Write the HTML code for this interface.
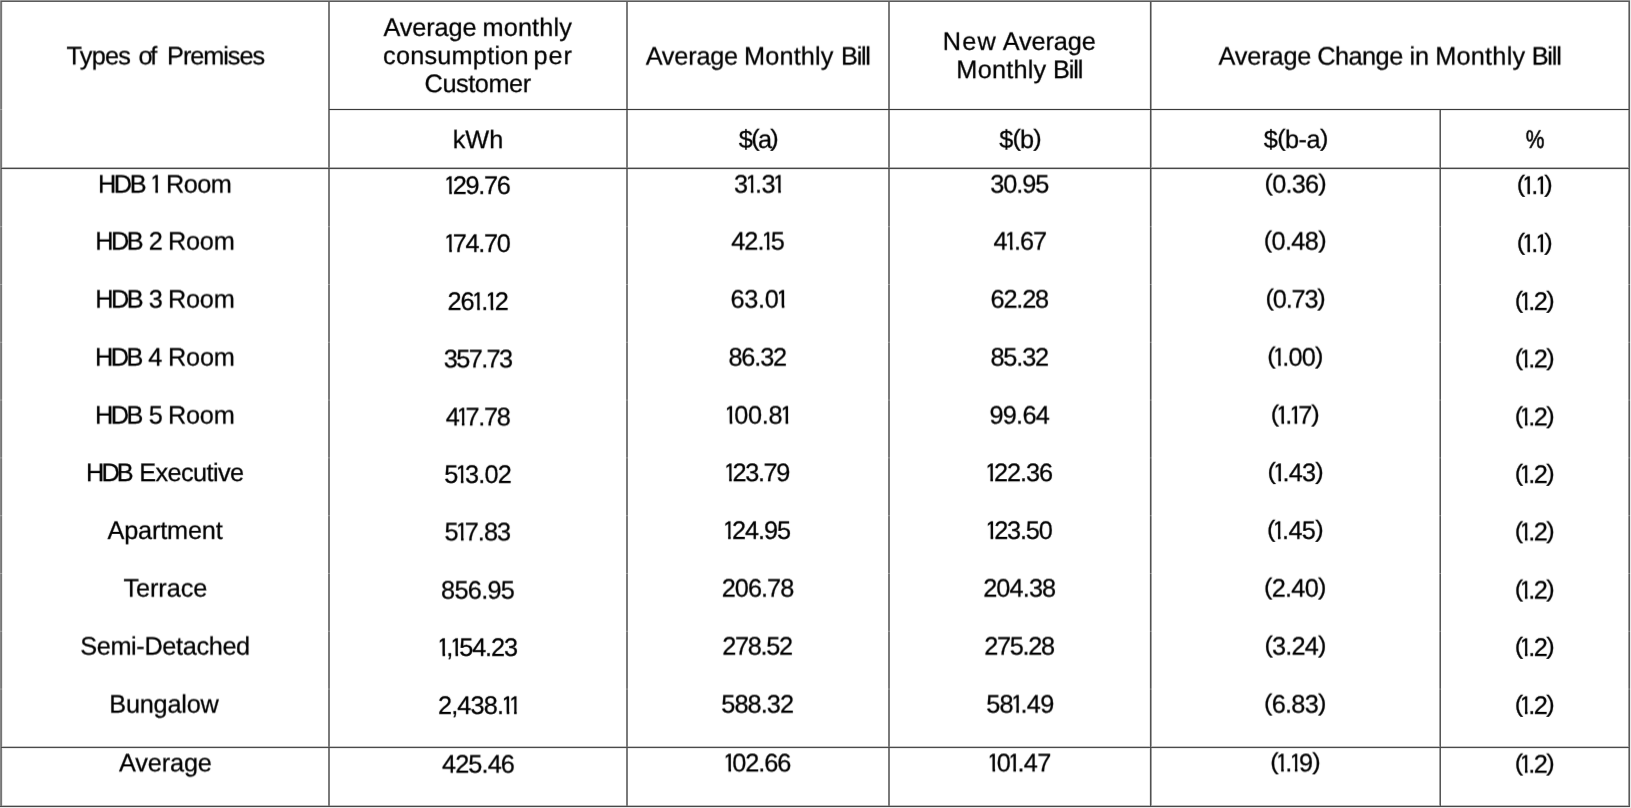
<!DOCTYPE html>
<html lang="en"><head><meta charset="utf-8"><title>Average Monthly Bill by Premises Type</title>
<style>
html,body{margin:0;padding:0;background:#fff;}
body{width:1631px;height:808px;position:relative;overflow:hidden;font-family:"Liberation Sans",Arial,Helvetica,sans-serif;}
#grid{position:absolute;left:0;top:0;width:1631px;height:808px;}
#txt{position:absolute;left:0;top:0;width:1631px;height:808px;}
.s0{filter:url(#f0);}.s1{filter:url(#f1);}.s2{filter:url(#f2);}.s3{filter:url(#f3);}
.t{position:absolute;width:600px;height:30px;line-height:30px;text-align:center;white-space:nowrap;font-size:25.3px;color:#000;-webkit-text-stroke:0.25px #000;text-rendering:geometricPrecision;}
.t b{font-weight:normal;display:inline-block;transform:translateY(-1.25px) scaleY(0.93);}
.t i{font-style:normal;display:inline-block;margin:0 -3.1px 0 -2.8px;clip-path:polygon(3.4px 0,8.75px 0,8.75px 30px,6.2px 30px,6.2px 21.6px,3.4px 21.6px);}
</style></head><body>
<svg id="grid" width="1631" height="808" viewBox="0 0 1631 808">
<g fill="#ececec">
<rect x="329" y="108" width="1300" height="3"/>
<rect x="1" y="169" width="1628" height="1"/>
<rect x="1" y="748" width="1628" height="1"/>
<rect x="2" y="2" width="1" height="804"/>
<rect x="1630" y="0" width="1" height="808"/>
<rect x="0" y="807" width="1631" height="1"/>
<rect x="1149" y="2" width="1" height="804"/>
</g>
<rect x="1" y="167" width="1628" height="1" fill="#b2b2b2"/>
<rect x="1" y="746" width="1628" height="1" fill="#c4c4c4"/>
<rect x="0" y="805" width="1630" height="1" fill="#bdbdbd"/>
<g fill="#7a7a7a">
<rect x="328" y="1" width="2" height="806"/>
<rect x="626" y="1" width="2" height="806"/>
<rect x="888" y="1" width="2" height="806"/>
</g>
<rect x="1150" y="1" width="1" height="806" fill="#525252"/><rect x="1151" y="1" width="1" height="806" fill="#a0a0a0"/>
<rect x="1439" y="109" width="1" height="698" fill="#9e9e9e"/><rect x="1440" y="109" width="1" height="698" fill="#565656"/>
<rect x="0" y="0" width="1" height="807" fill="#868686"/><rect x="1" y="1" width="1" height="806" fill="#757575"/>
<rect x="1628" y="0" width="1" height="807" fill="#9a9a9a"/><rect x="1629" y="0" width="1" height="807" fill="#5a5a5a"/>
<rect x="1" y="0" width="1629" height="1" fill="#969696"/><rect x="1" y="1" width="1629" height="1" fill="#5c5c5c"/>
<rect x="0" y="0" width="1" height="1" fill="#a8a8a8"/>
<g fill="#fff" fill-opacity="0.28"><rect x="0" y="226.17" width="1631" height="1"/><rect x="0" y="283.97" width="1631" height="1"/><rect x="0" y="341.77" width="1631" height="1"/><rect x="0" y="399.57" width="1631" height="1"/><rect x="0" y="457.37" width="1631" height="1"/><rect x="0" y="515.17" width="1631" height="1"/><rect x="0" y="572.97" width="1631" height="1"/><rect x="0" y="630.77" width="1631" height="1"/><rect x="0" y="688.57" width="1631" height="1"/><rect x="0" y="109" width="3" height="1"/></g>
<rect x="329" y="109" width="1300" height="1" fill="#3a3a3a"/>
<rect x="1" y="168" width="1628" height="1" fill="#484848"/>
<rect x="1" y="747" width="1628" height="1" fill="#4a4a4a"/>
<rect x="0" y="806" width="1630" height="1" fill="#484848"/>
</svg>

<svg width="0" height="0" style="position:absolute"><defs>
<filter id="f0" x="0" y="0" width="100%" height="100%" color-interpolation-filters="sRGB"><feConvolveMatrix order="3 1" kernelMatrix="0.0500 0.9000 0.0500" edgeMode="none" preserveAlpha="false"/><feConvolveMatrix order="1 5" kernelMatrix="0.0000 0.3750 0.6250 0.0000 0.0000" edgeMode="none" preserveAlpha="false"/></filter>
<filter id="f1" x="0" y="0" width="100%" height="100%" color-interpolation-filters="sRGB"><feConvolveMatrix order="3 1" kernelMatrix="0.0500 0.9000 0.0500" edgeMode="none" preserveAlpha="false"/><feConvolveMatrix order="1 5" kernelMatrix="0.0000 0.1250 0.8750 0.0000 0.0000" edgeMode="none" preserveAlpha="false"/></filter>
<filter id="f2" x="0" y="0" width="100%" height="100%" color-interpolation-filters="sRGB"><feConvolveMatrix order="3 1" kernelMatrix="0.0500 0.9000 0.0500" edgeMode="none" preserveAlpha="false"/><feConvolveMatrix order="1 5" kernelMatrix="0.0000 0.0000 0.8750 0.1250 0.0000" edgeMode="none" preserveAlpha="false"/></filter>
<filter id="f3" x="0" y="0" width="100%" height="100%" color-interpolation-filters="sRGB"><feConvolveMatrix order="3 1" kernelMatrix="0.0500 0.9000 0.0500" edgeMode="none" preserveAlpha="false"/><feConvolveMatrix order="1 5" kernelMatrix="0.0000 0.0000 0.6250 0.3750 0.0000" edgeMode="none" preserveAlpha="false"/></filter>
</defs></svg>
<div id="txt">
<div><span class="t s3" style="left:-201.72px;top:40.5px;letter-spacing:-0.810px;">Types</span> <span class="t s3" style="left:-153.24px;top:40.5px;letter-spacing:-2.400px;">of</span> <span class="t s3" style="left:-84.43px;top:40.5px;letter-spacing:-1.054px;">Premises</span></div>
<div><span class="t s1" style="left:129.97px;top:12.5px;letter-spacing:-0.100px;">Average</span> <span class="t s1" style="left:227.22px;top:12.5px;letter-spacing:0.120px;">monthly</span></div>
<div><span class="t s2" style="left:155.91px;top:40.5px;letter-spacing:0.210px;">consumption</span> <span class="t s2" style="left:253.16px;top:40.5px;letter-spacing:0.840px;">per</span></div>
<div><span class="t s2" style="left:177.65px;top:68.5px;letter-spacing:-0.446px;">Customer</span></div>
<div><span class="t s0" style="left:391.82px;top:41.5px;letter-spacing:-0.200px;">Average</span> <span class="t s0" style="left:488.81px;top:41.5px;letter-spacing:0.140px;">Monthly</span> <span class="t s0" style="left:555.41px;top:41.5px;letter-spacing:-1.280px;">Bill</span></div>
<div><span class="t s1" style="left:669.80px;top:26.5px;letter-spacing:1.140px;">New</span> <span class="t s1" style="left:749.22px;top:26.5px;letter-spacing:-0.105px;">Average</span></div>
<div><span class="t s2" style="left:701.38px;top:54.5px;letter-spacing:0.210px;">Monthly</span> <span class="t s2" style="left:767.67px;top:54.5px;letter-spacing:-1.120px;">Bill</span></div>
<div><span class="t s0" style="left:964.93px;top:41.5px;letter-spacing:-0.150px;">Average</span> <span class="t s0" style="left:1059.96px;top:41.5px;letter-spacing:-0.504px;">Change</span> <span class="t s0" style="left:1119.33px;top:41.5px;letter-spacing:0.000px;">in</span> <span class="t s0" style="left:1180.30px;top:41.5px;letter-spacing:0.250px;">Monthly</span> <span class="t s0" style="left:1246.18px;top:41.5px;letter-spacing:-1.160px;">Bill</span></div>
<div><span class="t s2" style="left:178.00px;top:124.5px;letter-spacing:0.000px;">kWh</span></div>
<div><span class="t s1" style="left:457.94px;top:124.5px;letter-spacing:-1.680px;">$<b>(</b>a<b>)</b></span></div>
<div><span class="t s1" style="left:720.08px;top:124.5px;letter-spacing:-0.820px;">$<b>(</b>b<b>)</b></span></div>
<div><span class="t s1" style="left:995.72px;top:124.5px;letter-spacing:-0.552px;">$<b>(</b>b-a<b>)</b></span></div>
<div><span class="t s1" style="left:1234.70px;top:124.5px;letter-spacing:0.000px;transform:scaleX(0.83);-webkit-text-stroke-width:0.55px;">%</span></div>
<div><span class="t s0" style="left:-178.91px;top:169.5px;letter-spacing:-2.340px;">HDB</span> <span class="t s0" style="left:-143.93px;top:169.5px;letter-spacing:0.000px;"><i>1</i></span> <span class="t s0" style="left:-101.35px;top:169.5px;letter-spacing:-0.600px;">Room</span></div>
<div><span class="t s1" style="left:177.65px;top:170.5px;letter-spacing:-1.332px;"><i>1</i>29.76</span></div>
<div><span class="t s0" style="left:458.22px;top:169.5px;letter-spacing:-0.630px;">3<i>1</i>.3<i>1</i></span></div>
<div><span class="t s0" style="left:719.24px;top:169.5px;letter-spacing:-1.020px;">30.95</span></div>
<div><span class="t s0" style="left:995.23px;top:169.5px;letter-spacing:-0.804px;"><b>(</b>0.36<b>)</b></span></div>
<div><span class="t s1" style="left:1234.21px;top:170.5px;letter-spacing:-1.050px;"><b>(</b><i>1</i>.<i>1</i><b>)</b></span></div>
<div><span class="t s0" style="left:-181.84px;top:226.5px;letter-spacing:-2.520px;">HDB</span> <span class="t s0" style="left:-144.20px;top:226.5px;letter-spacing:0.000px;">2</span> <span class="t s0" style="left:-98.76px;top:226.5px;letter-spacing:-0.200px;">Room</span></div>
<div><span class="t s1" style="left:177.65px;top:228.5px;letter-spacing:-1.332px;"><i>1</i>74.70</span></div>
<div><span class="t s0" style="left:457.52px;top:226.5px;letter-spacing:-0.930px;">42.<i>1</i>5</span></div>
<div><span class="t s0" style="left:719.87px;top:226.5px;letter-spacing:-0.960px;">4<i>1</i>.67</span></div>
<div><span class="t s0" style="left:994.88px;top:226.5px;letter-spacing:-0.600px;"><b>(</b>0.48<b>)</b></span></div>
<div><span class="t s1" style="left:1234.21px;top:228.5px;letter-spacing:-1.050px;"><b>(</b><i>1</i>.<i>1</i><b>)</b></span></div>
<div><span class="t s0" style="left:-181.84px;top:284.5px;letter-spacing:-2.520px;">HDB</span> <span class="t s0" style="left:-144.20px;top:284.5px;letter-spacing:0.000px;">3</span> <span class="t s0" style="left:-98.76px;top:284.5px;letter-spacing:-0.200px;">Room</span></div>
<div><span class="t s1" style="left:177.65px;top:286.5px;letter-spacing:-0.864px;">26<i>1</i>.<i>1</i>2</span></div>
<div><span class="t s0" style="left:458.36px;top:284.5px;letter-spacing:-0.315px;">63.0<i>1</i></span></div>
<div><span class="t s0" style="left:719.24px;top:284.5px;letter-spacing:-1.200px;">62.28</span></div>
<div><span class="t s0" style="left:995.09px;top:284.5px;letter-spacing:-1.176px;"><b>(</b>0.73<b>)</b></span></div>
<div><span class="t s1" style="left:1233.86px;top:286.5px;letter-spacing:-1.560px;"><b>(</b><i>1</i>.2<b>)</b></span></div>
<div><span class="t s0" style="left:-182.15px;top:342.5px;letter-spacing:-2.550px;">HDB</span> <span class="t s0" style="left:-144.60px;top:342.5px;letter-spacing:0.000px;">4</span> <span class="t s0" style="left:-98.68px;top:342.5px;letter-spacing:-0.180px;">Room</span></div>
<div><span class="t s3" style="left:177.65px;top:343.5px;letter-spacing:-1.584px;">357.73</span></div>
<div><span class="t s0" style="left:457.24px;top:342.5px;letter-spacing:-1.140px;">86.32</span></div>
<div><span class="t s0" style="left:719.24px;top:342.5px;letter-spacing:-1.140px;">85.32</span></div>
<div><span class="t s0" style="left:994.88px;top:342.5px;letter-spacing:-0.816px;"><b>(</b><i>1</i>.00<b>)</b></span></div>
<div><span class="t s3" style="left:1233.86px;top:343.5px;letter-spacing:-1.560px;"><b>(</b><i>1</i>.2<b>)</b></span></div>
<div><span class="t s0" style="left:-182.15px;top:400.5px;letter-spacing:-2.550px;">HDB</span> <span class="t s0" style="left:-144.25px;top:400.5px;letter-spacing:0.000px;">5</span> <span class="t s0" style="left:-98.76px;top:400.5px;letter-spacing:-0.200px;">Room</span></div>
<div><span class="t s3" style="left:177.65px;top:401.5px;letter-spacing:-1.260px;">4<i>1</i>7.78</span></div>
<div><span class="t s0" style="left:458.22px;top:400.5px;letter-spacing:-0.312px;"><i>1</i>00.8<i>1</i></span></div>
<div><span class="t s0" style="left:719.24px;top:400.5px;letter-spacing:-0.720px;">99.64</span></div>
<div><span class="t s0" style="left:994.74px;top:400.5px;letter-spacing:-1.056px;"><b>(</b><i>1</i>.<i>1</i>7<b>)</b></span></div>
<div><span class="t s3" style="left:1233.86px;top:401.5px;letter-spacing:-1.560px;"><b>(</b><i>1</i>.2<b>)</b></span></div>
<div><span class="t s2" style="left:-191.59px;top:457.5px;letter-spacing:-2.880px;">HDB</span> <span class="t s2" style="left:-108.67px;top:457.5px;letter-spacing:-0.585px;">Executive</span></div>
<div><span class="t s1" style="left:177.65px;top:459.5px;letter-spacing:-0.768px;">5<i>1</i>3.02</span></div>
<div><span class="t s2" style="left:457.38px;top:457.5px;letter-spacing:-1.392px;"><i>1</i>23.79</span></div>
<div><span class="t s2" style="left:719.52px;top:457.5px;letter-spacing:-1.080px;"><i>1</i>22.36</span></div>
<div><span class="t s2" style="left:995.23px;top:457.5px;letter-spacing:-0.768px;"><b>(</b><i>1</i>.43<b>)</b></span></div>
<div><span class="t s1" style="left:1233.86px;top:459.5px;letter-spacing:-1.560px;"><b>(</b><i>1</i>.2<b>)</b></span></div>
<div><span class="t s1" style="left:-135.00px;top:515.5px;letter-spacing:-0.180px;">Apartment</span></div>
<div><span class="t s3" style="left:177.30px;top:516.5px;letter-spacing:-1.008px;">5<i>1</i>7.83</span></div>
<div><span class="t s1" style="left:457.45px;top:515.5px;letter-spacing:-1.020px;"><i>1</i>24.95</span></div>
<div><span class="t s1" style="left:719.38px;top:515.5px;letter-spacing:-1.200px;"><i>1</i>23.50</span></div>
<div><span class="t s1" style="left:994.88px;top:515.5px;letter-spacing:-0.708px;"><b>(</b><i>1</i>.45<b>)</b></span></div>
<div><span class="t s3" style="left:1233.86px;top:516.5px;letter-spacing:-1.560px;"><b>(</b><i>1</i>.2<b>)</b></span></div>
<div><span class="t s0" style="left:-134.65px;top:573.5px;letter-spacing:-0.120px;">Terrace</span></div>
<div><span class="t s0" style="left:177.65px;top:575.5px;letter-spacing:-0.696px;">856.95</span></div>
<div><span class="t s0" style="left:457.52px;top:573.5px;letter-spacing:-0.984px;">206.78</span></div>
<div><span class="t s0" style="left:719.24px;top:573.5px;letter-spacing:-0.864px;">204.38</span></div>
<div><span class="t s0" style="left:994.88px;top:573.5px;letter-spacing:-0.744px;"><b>(</b>2.40<b>)</b></span></div>
<div><span class="t s0" style="left:1233.86px;top:575.5px;letter-spacing:-1.560px;"><b>(</b><i>1</i>.2<b>)</b></span></div>
<div><span class="t s0" style="left:-135.00px;top:631.5px;letter-spacing:-0.360px;">Semi-Detached</span></div>
<div><span class="t s1" style="left:178.00px;top:632.5px;letter-spacing:-1.131px;"><i>1</i>,<i>1</i>54.23</span></div>
<div><span class="t s0" style="left:457.03px;top:631.5px;letter-spacing:-1.308px;">278.52</span></div>
<div><span class="t s0" style="left:719.03px;top:631.5px;letter-spacing:-1.344px;">275.28</span></div>
<div><span class="t s0" style="left:995.02px;top:631.5px;letter-spacing:-0.816px;"><b>(</b>3.24<b>)</b></span></div>
<div><span class="t s1" style="left:1233.86px;top:632.5px;letter-spacing:-1.560px;"><b>(</b><i>1</i>.2<b>)</b></span></div>
<div><span class="t s0" style="left:-136.05px;top:689.5px;letter-spacing:-0.223px;">Bungalow</span></div>
<div><span class="t s1" style="left:178.00px;top:690.5px;letter-spacing:-0.814px;">2,438.<i>1</i><i>1</i></span></div>
<div><span class="t s0" style="left:457.24px;top:689.5px;letter-spacing:-0.912px;">588.32</span></div>
<div><span class="t s0" style="left:719.87px;top:689.5px;letter-spacing:-0.672px;">58<i>1</i>.49</span></div>
<div><span class="t s0" style="left:994.88px;top:689.5px;letter-spacing:-0.744px;"><b>(</b>6.83<b>)</b></span></div>
<div><span class="t s1" style="left:1233.86px;top:690.5px;letter-spacing:-1.560px;"><b>(</b><i>1</i>.2<b>)</b></span></div>
<div><span class="t s3" style="left:-134.65px;top:747.5px;letter-spacing:-0.140px;">Average</span></div>
<div><span class="t s0" style="left:178.00px;top:749.5px;letter-spacing:-0.888px;">425.46</span></div>
<div><span class="t s3" style="left:457.73px;top:747.5px;letter-spacing:-1.044px;"><i>1</i>02.66</span></div>
<div><span class="t s3" style="left:719.87px;top:747.5px;letter-spacing:-0.696px;"><i>1</i>0<i>1</i>.47</span></div>
<div><span class="t s3" style="left:995.02px;top:747.5px;letter-spacing:-0.768px;"><b>(</b><i>1</i>.<i>1</i>9<b>)</b></span></div>
<div><span class="t s0" style="left:1233.86px;top:749.5px;letter-spacing:-1.560px;"><b>(</b><i>1</i>.2<b>)</b></span></div>
</div>
</body></html>
